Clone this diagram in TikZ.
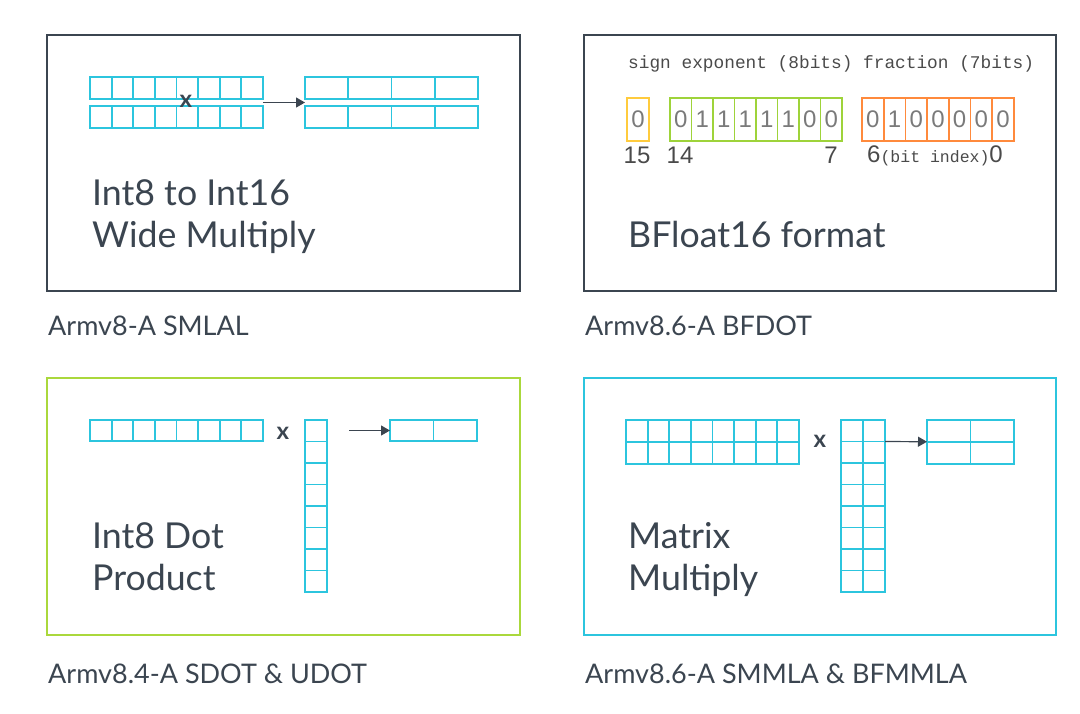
\documentclass[tikz,border=0pt]{standalone}
\usepackage{fontspec}
\setmainfont{Lato}
\newfontfamily\monofont{Liberation Mono}
\newfontfamily\arialfont{Liberation Sans}
\usetikzlibrary{arrows.meta,calc}
\definecolor{armgray}{HTML}{3B4550}
\definecolor{armcyan}{HTML}{2CC5DE}
\definecolor{armgreen}{HTML}{AAD83C}
\definecolor{armyellow}{HTML}{FFCB3D}
\definecolor{armlime}{HTML}{9ED33A}
\definecolor{armorange}{HTML}{FF8A3C}
\definecolor{bitgray}{HTML}{7A7A7A}
\definecolor{idxgray}{HTML}{4A4A4A}
\tikzset{
  panel/.style={line width=1.6pt},
  cellbox/.style={draw=armcyan, line width=1.8pt, inner sep=0pt, outer sep=0pt, minimum width=#1, minimum height=21.5pt},
  cellbox/.default=21.6pt,
  bitbox/.style={draw=#1, line width=1.6pt, inner sep=0pt, outer sep=0pt, minimum width=21.6pt, minimum height=43pt, font=\arialfont\fontsize{24}{24}\selectfont, text=bitgray},
  title/.style={font=\fontsize{35.7}{42}\selectfont, text=armgray, anchor=base west, inner sep=0pt},
  caption/.style={font=\fontsize{27}{32}\selectfont, text=armgray, anchor=base west, inner sep=0pt},
  times/.style={font=\bfseries\fontsize{24}{24}\selectfont, text=armgray, inner sep=0pt},
  idx/.style={font=\arialfont\fontsize{24}{24}\selectfont, text=idxgray, inner sep=0pt},
  conn/.style={-{Triangle[length=9pt,width=10pt]}, draw=armgray, line width=1.2pt},
}
\begin{document}
\begin{tikzpicture}[x=1pt, y=-1pt]
\useasboundingbox (0,0) rectangle (1080,713);
% panels
\draw[panel, draw=armgray] (47,35) rectangle (520,291);
\draw[panel, draw=armgray] (584,35) rectangle (1056,291);
\draw[panel, draw=armgreen] (47,378) rectangle (520,635);
\draw[panel, draw=armcyan] (584,378) rectangle (1056,635);

% Int8 to Int16 wide multiply
\foreach \i in {1,...,8} {
  \node[cellbox] (a1\i) at ({90+21.6*(\i-0.5)},88) {};
  \node[cellbox] (a2\i) at ({90+21.6*(\i-0.5)},117) {};
}
\foreach \i in {1,...,4} {
  \node[cellbox=43.2pt] (b1\i) at ({305+43.2*(\i-0.5)},88) {};
  \node[cellbox=43.2pt] (b2\i) at ({305+43.2*(\i-0.5)},117) {};
}
\node[times] (tx1) at (186,101) {x};
\draw[conn] ($(a18.south east)!.5!(a28.north east)$) -- ($(b11.south west)!.5!(b21.north west)$);
\node[title] (t1a) at (92,205) {Int8 to Int16};
\node[title] (t1b) at (92,247) {Wide Multiply};
\node[caption] (c1) at (48,335) {Armv8-A SMLAL};

% BFloat16 format
\node[font=\monofont\fontsize{17.8}{18}\selectfont, text=idxgray, anchor=west, inner sep=0pt] (hdr) at (628,64) {sign exponent (8bits) fraction (7bits)};
\node[bitbox=armyellow] (s1) at (638,119.5) {0};
\foreach \b [count=\i] in {0,1,1,1,1,1,0,0}
  \node[bitbox=armlime] (e\i) at ({670+21.5*(\i-0.5)},119.5) {\b};
\foreach \b [count=\i] in {0,1,0,0,0,0,0}
  \node[bitbox=armorange] (f\i) at ({862+21.7*(\i-0.5)},119.5) {\b};
\node[idx] (i15) at (637,155) {15};
\node[idx] (i14) at (680,155) {14};
\node[idx] (i7) at (831,155) {7};
\node[idx, anchor=west] (i6) at (867,156) {6{\monofont\fontsize{16.5}{16}\selectfont(bit index)}0};
\node[title] (t2) at (628,247) {BFloat16 format};
\node[caption] (c2) at (585,335) {Armv8.6-A BFDOT};

% Int8 dot product
\foreach \i in {1,...,8} {
  \node[cellbox] (r\i) at ({90+21.6*(\i-0.5)},430.5) {};
  \node[cellbox=22pt] (k\i) at (316,{420+21.5*(\i-0.5)}) {};
}
\foreach \i in {1,2}
  \node[cellbox=43.5pt] (d\i) at ({390+43.5*(\i-0.5)},430.5) {};
\node[times] (tx2) at (283,433) {x};
\coordinate (dstart) at (349,430.5);
\draw[conn] (dstart) -- (d1.west);
\node[title] (t3a) at (92,548) {Int8 Dot};
\node[title] (t3b) at (92,590) {Product};
\node[caption] (c3) at (48,683) {Armv8.4-A SDOT \& UDOT};

% Matrix multiply
\foreach \i in {1,...,8} {
  \node[cellbox] (m1\i) at ({626+21.6*(\i-0.5)},431) {};
  \node[cellbox] (m2\i) at ({626+21.6*(\i-0.5)},453) {};
  \node[cellbox=22pt] (n1\i) at (852,{420+21.5*(\i-0.5)}) {};
  \node[cellbox=22pt] (n2\i) at (874,{420+21.5*(\i-0.5)}) {};
}
\foreach \i in {1,2} {
  \node[cellbox=43.5pt] (p1\i) at ({927+43.5*(\i-0.5)},431) {};
  \node[cellbox=43.5pt] (p2\i) at ({927+43.5*(\i-0.5)},453) {};
}
\node[times] (tx3) at (820,441) {x};
\draw[conn] (n21.south east) -- (p11.south west);
\node[title] (t4a) at (628,548) {Matrix};
\node[title] (t4b) at (628,590) {Multiply};
\node[caption] (c4) at (585,683) {Armv8.6-A SMMLA \& BFMMLA};
\end{tikzpicture}
\end{document}
